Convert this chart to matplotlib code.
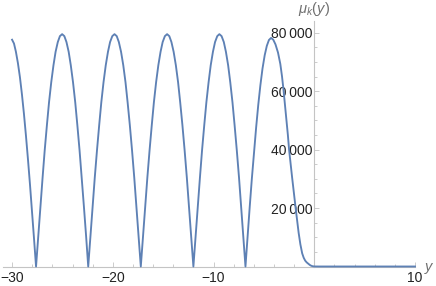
import matplotlib
matplotlib.use("Agg")
import matplotlib.pyplot as plt
from matplotlib.ticker import FixedLocator, MultipleLocator, FuncFormatter

plt.rcParams["font.family"] = ["Liberation Sans", "DejaVu Sans"]
plt.rcParams["mathtext.fontset"] = "custom"
plt.rcParams["mathtext.it"] = "Liberation Sans:italic"
plt.rcParams["mathtext.rm"] = "Liberation Sans"

# values (y, mu_k(y))
y_vals = [-30.0, -29.81, -29.62, -29.42, -29.22, -29.02, -28.82, -28.62, -28.42, -28.22, -28.02, -27.82,
          # lobe 1
          -27.62, -27.40, -27.19, -26.97, -26.76, -26.54, -26.33, -26.11, -25.89, -25.68, -25.46, -25.25,
          -25.03, -24.81, -24.60, -24.38, -24.17, -23.95, -23.73, -23.52, -23.30, -23.09, -22.87, -22.65,
          # lobe 2
          -22.44, -22.22, -22.01, -21.79, -21.57, -21.35, -21.14, -20.92, -20.70, -20.48, -20.27, -20.05,
          -19.83, -19.61, -19.40, -19.18, -18.96, -18.74, -18.53, -18.31, -18.09, -17.87, -17.66, -17.44,
          # lobe 3
          -17.22, -17.00, -16.79, -16.57, -16.35, -16.13, -15.92, -15.70, -15.48, -15.26, -15.05, -14.83,
          -14.61, -14.39, -14.18, -13.96, -13.74, -13.52, -13.31, -13.09, -12.87, -12.65, -12.44, -12.22,
          # lobe 4
          -12.00, -11.78, -11.57, -11.35, -11.14, -10.92, -10.71, -10.49, -10.28, -10.06, -9.85, -9.63,
          -9.42, -9.20, -8.98, -8.77, -8.55, -8.34, -8.12, -7.91, -7.69, -7.47, -7.26, -7.04,
          # last lobe
          -6.83, -6.62, -6.41, -6.20, -5.98, -5.77, -5.56, -5.35, -5.14, -4.92, -4.71, -4.50, -4.29,
          -4.07, -3.85, -3.60, -3.37, -3.20, -3.04, -2.90, -2.75, -2.62, -2.50, -2.35, -2.20, -2.02,
          -1.85, -1.70, -1.55, -1.38, -1.20, -1.05, -0.90, -0.75, -0.60, -0.45, -0.30, -0.15, 0.0, 0.5,
          10.0]
mu_vals = [77600, 76300, 73500, 69600, 64800, 58900, 52200, 44700, 36600, 28000, 18900, 9500,
           0, 10375, 20600, 30420, 39750, 48400, 56200, 63070, 68850, 73450, 76800, 78820,
           79500, 78820, 76800, 73450, 68850, 63070, 56200, 48400, 39750, 30420, 20600, 10375,
           0, 10375, 20600, 30420, 39750, 48400, 56200, 63070, 68850, 73450, 76800, 78820,
           79500, 78820, 76800, 73450, 68850, 63070, 56200, 48400, 39750, 30420, 20600, 10375,
           0, 10375, 20600, 30420, 39750, 48400, 56200, 63070, 68850, 73450, 76800, 78820,
           79500, 78820, 76800, 73450, 68850, 63070, 56200, 48400, 39750, 30420, 20600, 10375,
           0, 10375, 20600, 30420, 39750, 48400, 56200, 63070, 68850, 73450, 76800, 78820,
           79500, 78820, 76800, 73450, 68850, 63070, 56200, 48400, 39750, 30420, 20600, 10375,
           0, 10200, 20300, 29900, 39100, 47600, 55300, 62000, 67700, 72300, 75500, 77500, 78200,
           77600, 76000, 73200, 69300, 65000, 60000, 55000, 50000, 45000, 40000, 35200, 30500, 25000,
           20000, 15600, 11500, 7600, 4500, 3000, 2000, 1400, 950, 550, 250, 80, 20, 0,
           0]

x_major = [-30, -20, -10, 10]
y_major = [20000, 40000, 60000, 80000]

axis_grey = "#c4c4c4"

fig = plt.figure(figsize=(4.36, 2.86), dpi=100)
ax = fig.add_axes([3 / 436, 19.5 / 286, 412 / 436, 245.5 / 286])
ax.plot(y_vals, mu_vals, color="#5E81B5", lw=1.35, clip_on=False, zorder=3)

ax.set_xlim(-30.9, 10)
ax.set_ylim(0, 84000)

ax.spines["top"].set_visible(False)
ax.spines["right"].set_visible(False)
ax.spines["left"].set_position(("data", 0))
ax.spines["bottom"].set_position(("data", 0))
for s in ["left", "bottom"]:
    ax.spines[s].set_color(axis_grey)
    ax.spines[s].set_linewidth(0.8)

ax.xaxis.set_major_locator(FixedLocator(x_major))
ax.xaxis.set_minor_locator(MultipleLocator(2))
ax.yaxis.set_major_locator(FixedLocator(y_major))
ax.yaxis.set_minor_locator(MultipleLocator(5000))
ax.yaxis.set_major_formatter(FuncFormatter(lambda v, p: f"{int(v):,}".replace(",", "\u2009")))

ax.tick_params(which="both", direction="in", color=axis_grey, width=0.6, labelsize=10, labelcolor="#222222")
ax.tick_params(which="major", length=3.5)
ax.tick_params(which="minor", length=2)
ax.tick_params(axis="y", pad=1.5)
ax.tick_params(axis="x", pad=3)

fig.text(314 / 436, 1 - 9 / 286, r"$\mu_k(y)$", color="#707070", fontsize=10.5, ha="center", va="center")
fig.text(429 / 436, 1 - 268 / 286, r"$y$", color="#707070", fontsize=10.5, ha="center", va="center")

fig.savefig("out.png", dpi=100)
